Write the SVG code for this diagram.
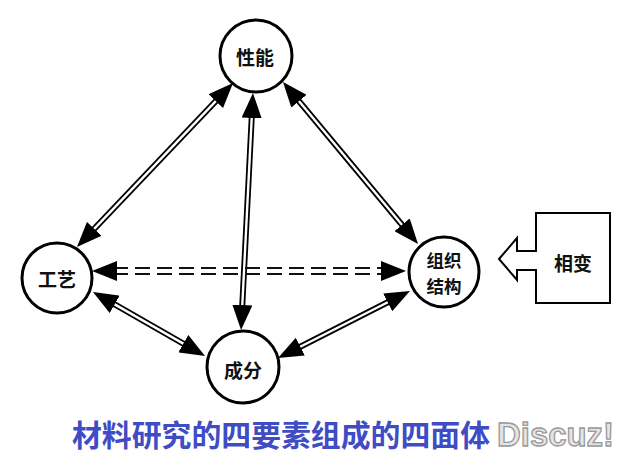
<svg xmlns="http://www.w3.org/2000/svg" width="625" height="461" viewBox="0 0 625 461">
<defs>
<style>
.node circle{fill:#fff;stroke:#000;stroke-width:3}
.lbl{font-family:"Noto Sans CJK SC",sans-serif;font-weight:bold;font-size:19px;fill:#111;text-anchor:middle;dominant-baseline:central}
.sm{font-size:17.5px}
.outer{stroke:#000;stroke-width:6;fill:none}
.inner{stroke:#fff;stroke-width:2.4;fill:none;marker-start:url(#ah);marker-end:url(#ah)}
.dash{stroke:#111;stroke-width:2.2;stroke-dasharray:15 7;fill:none}
.head{fill:#000}
</style>
<marker id="ah" viewBox="0 0 25 20" refX="10" refY="10" markerUnits="userSpaceOnUse" markerWidth="25" markerHeight="20" orient="auto-start-reverse">
<path d="M0,0 L25,10 L0,20 Z" fill="#000"/>
</marker>
</defs>
<rect width="625" height="461" fill="#fff"/>
<g id="connectors">
<g id="c-xingneng-gongyi"><line class="outer" x1="222.7" y1="93.9" x2="87.3" y2="236.1"/><line class="inner" x1="222.7" y1="93.9" x2="87.3" y2="236.1"/></g>
<g id="c-xingneng-chengfen"><line class="outer" x1="252.2" y1="108" x2="241.8" y2="315"/><line class="inner" x1="252.2" y1="108" x2="241.8" y2="315"/></g>
<g id="c-xingneng-zuzhi"><line class="outer" x1="292.6" y1="93.5" x2="408.4" y2="232.5"/><line class="inner" x1="292.6" y1="93.5" x2="408.4" y2="232.5"/></g>
<g id="c-gongyi-chengfen"><line class="outer" x1="106" y1="299.4" x2="192" y2="348.6"/><line class="inner" x1="106" y1="299.4" x2="192" y2="348.6"/></g>
<g id="c-chengfen-zuzhi"><line class="outer" x1="291.4" y1="351.2" x2="396.6" y2="297.8"/><line class="inner" x1="291.4" y1="351.2" x2="396.6" y2="297.8"/></g>
<g id="c-gongyi-zuzhi">
<line class="dash" x1="113" y1="268" x2="386" y2="268"/>
<line class="dash" x1="113" y1="274" x2="386" y2="274"/>
<polygon class="head" points="92,271 117,261 117,281"/>
<polygon class="head" points="406,271 381,261 381,281"/>
</g>
<g id="c-xiangbian-zuzhi">
<path d="M536,251 V213 H610 V303 H536 V270 H517 V280 L499,259 L517,238 V251 Z" fill="#fff" stroke="#000" stroke-width="2"/>
</g>
</g>
<g id="xingneng" class="node"><circle cx="256" cy="56" r="36"/><text class="lbl" x="255" y="56">性能</text></g>
<g id="gongyi" class="node"><circle cx="57" cy="278" r="35"/><text class="lbl" x="57" y="278">工艺</text></g>
<g id="chengfen" class="node"><circle cx="243" cy="367" r="36"/><text class="lbl" x="243" y="369">成分</text></g>
<g id="zuzhi" class="node"><circle cx="444" cy="272" r="35"/><text class="lbl sm" x="444" y="259">组织</text><text class="lbl sm" x="444" y="285">结构</text></g>
<g id="xiangbian"><text class="lbl" x="573" y="262">相变</text></g>
<text x="72" y="446" font-family="Noto Sans CJK SC, sans-serif" font-weight="bold" font-size="30" fill="#3f4cc4" textLength="418" lengthAdjust="spacingAndGlyphs">材料研究的四要素组成的四面体</text>
<text x="497" y="446" font-family="Liberation Sans, sans-serif" font-weight="bold" font-size="33" fill="#e4e4e4" stroke="#999" stroke-width="1.3" textLength="117" lengthAdjust="spacingAndGlyphs">Discuz!</text>
</svg>
